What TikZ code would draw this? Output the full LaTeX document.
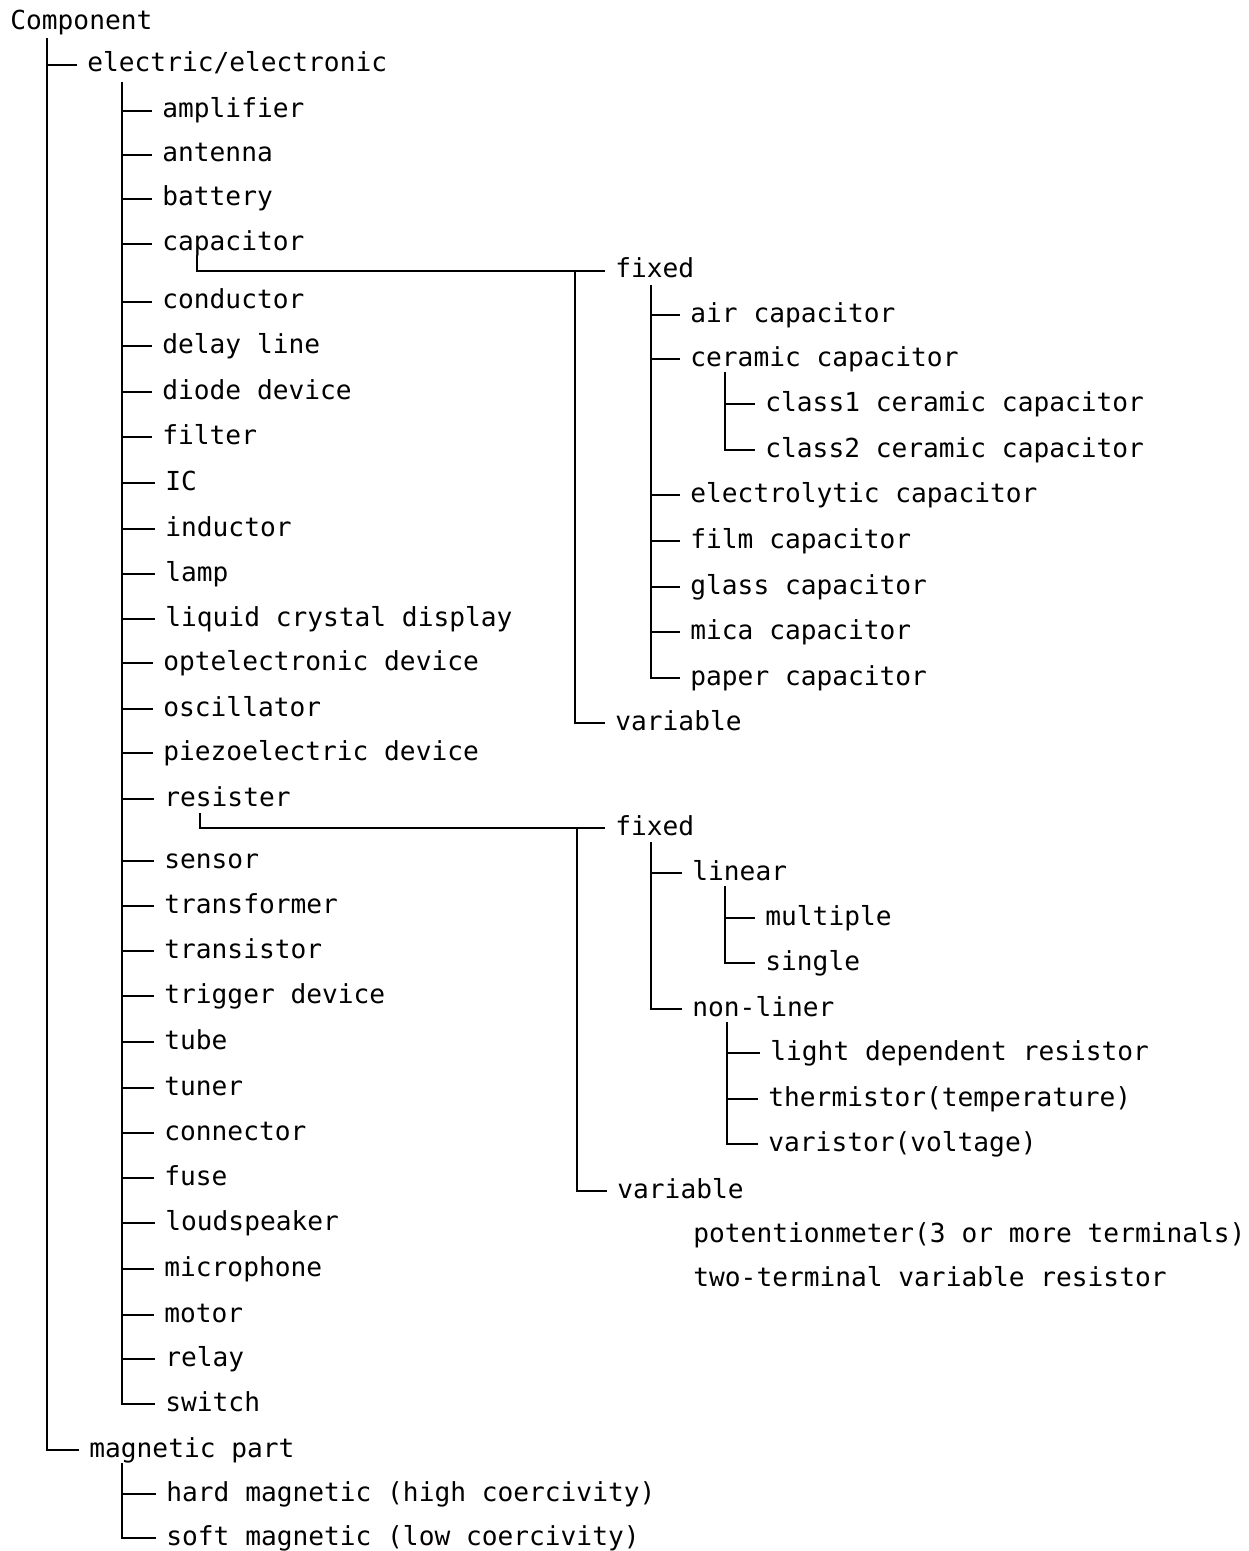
\documentclass[tikz,border=0pt]{standalone}
\usepackage{fontspec}
\setmonofont{DejaVu Sans Mono}
\begin{document}
\begin{tikzpicture}[x=0.5pt,y=-0.5pt,
  lbl/.style={anchor=west,inner sep=0pt,text height=7pt,text depth=0pt,
    font=\ttfamily\fontsize{13.1}{15}\selectfont},
  ln/.style={line width=1pt,black}]
\useasboundingbox (0,0) rectangle (1248,1551);

% root and first level
\node[lbl] (comp) at (10,23) {Component};
\node[lbl] (elec) at (87,65) {electric/electronic};
\node[lbl] (mag)  at (89,1450) {magnetic part};

% electric/electronic children
\node[lbl] (amp)   at (162,111) {amplifier};
\node[lbl] (ant)   at (162,155) {antenna};
\node[lbl] (bat)   at (162,199) {battery};
\node[lbl] (cap)   at (162,244) {capacitor};
\node[lbl] (cond)  at (162,302) {conductor};
\node[lbl] (delay) at (162,346) {delay line};
\node[lbl] (diode) at (162,392) {diode device};
\node[lbl] (filt)  at (162,437) {filter};
\node[lbl] (ic)    at (165,483) {IC};
\node[lbl] (ind)   at (165,529) {inductor};
\node[lbl] (lamp)  at (165,574) {lamp};
\node[lbl] (lcd)   at (165,619) {liquid crystal display};
\node[lbl] (opto)  at (163,663) {optelectronic device};
\node[lbl] (osc)   at (163,709) {oscillator};
\node[lbl] (piezo) at (163,753) {piezoelectric device};
\node[lbl] (res)   at (164,799) {resister};
\node[lbl] (sens)  at (164,861) {sensor};
\node[lbl] (trf)   at (164,906) {transformer};
\node[lbl] (trs)   at (164,951) {transistor};
\node[lbl] (trig)  at (164,996) {trigger device};
\node[lbl] (tube)  at (164,1042) {tube};
\node[lbl] (tuner) at (164,1088) {tuner};
\node[lbl] (conn)  at (164,1133) {connector};
\node[lbl] (fuse)  at (164,1178) {fuse};
\node[lbl] (spk)   at (165,1223) {loudspeaker};
\node[lbl] (mic)   at (164,1269) {microphone};
\node[lbl] (motor) at (164,1315) {motor};
\node[lbl] (relay) at (165,1359) {relay};
\node[lbl] (sw)    at (165,1404) {switch};

% magnetic part children
\node[lbl] (hard) at (166,1494) {hard magnetic (high coercivity)};
\node[lbl] (soft) at (166,1538) {soft magnetic (low coercivity)};

% capacitor subtree
\node[lbl] (cfix)   at (615,271) {fixed};
\node[lbl] (cair)   at (690,315) {air capacitor};
\node[lbl] (ccer)   at (690,359) {ceramic capacitor};
\node[lbl] (ccla)   at (765,404) {class1 ceramic capacitor};
\node[lbl] (cclb)   at (765,450) {class2 ceramic capacitor};
\node[lbl] (celec)  at (690,495) {electrolytic capacitor};
\node[lbl] (cfilm)  at (690,541) {film capacitor};
\node[lbl] (cglass) at (690,587) {glass capacitor};
\node[lbl] (cmica)  at (690,632) {mica capacitor};
\node[lbl] (cpaper) at (690,678) {paper capacitor};
\node[lbl] (cvar)   at (615,723) {variable};

% resister subtree
\node[lbl] (rfix)   at (615,828) {fixed};
\node[lbl] (rlin)   at (692,873) {linear};
\node[lbl] (rmult)  at (765,918) {multiple};
\node[lbl] (rsing)  at (765,963) {single};
\node[lbl] (rnon)   at (692,1009) {non-liner};
\node[lbl] (rldr)   at (770,1053) {light dependent resistor};
\node[lbl] (rtherm) at (768,1099) {thermistor(temperature)};
\node[lbl] (rvari)  at (768,1144) {varistor(voltage)};
\node[lbl] (rvar)   at (617,1191) {variable};
\node[lbl] (rpot)   at (693,1235) {potentionmeter(3 or more terminals)};
\node[lbl] (rtwo)   at (693,1279) {two-terminal variable resistor};

% trunk tops
\coordinate (tc) at (47,38);
\coordinate (te) at (122,82);
\coordinate (tm) at (122,1463);
\coordinate (tcap) at (197,255);
\coordinate (tcv) at (575,271);
\coordinate (tcf) at (651,285);
\coordinate (tcc) at (725,372);
\coordinate (tres) at (200,813);
\coordinate (trv) at (577,828);
\coordinate (trfx) at (651,842);
\coordinate (trl) at (725,886);
\coordinate (trn) at (727,1022);

% Component
\draw[ln] (tc) |- ([xshift=-5pt]mag.west);
\draw[ln] (tc |- elec.west) -- ([xshift=-5pt]elec.west);

% electric/electronic
\draw[ln] (te) |- ([xshift=-5pt]sw.west);
\foreach \n in {amp,ant,bat,cap,cond,delay,diode,filt,ic,ind,lamp,lcd,opto,osc,
  piezo,res,sens,trf,trs,trig,tube,tuner,conn,fuse,spk,mic,motor,relay}
  \draw[ln] (te |- \n.west) -- ([xshift=-5pt]\n.west);

% magnetic part
\draw[ln] (tm) |- ([xshift=-5pt]soft.west);
\draw[ln] (tm |- hard.west) -- ([xshift=-5pt]hard.west);

% capacitor
\draw[ln] (tcap) |- ([xshift=-5pt]cfix.west);
\draw[ln] (tcv) |- ([xshift=-5pt]cvar.west);
\draw[ln] (tcf) |- ([xshift=-5pt]cpaper.west);
\foreach \n in {cair,ccer,celec,cfilm,cglass,cmica}
  \draw[ln] (tcf |- \n.west) -- ([xshift=-5pt]\n.west);
\draw[ln] (tcc) |- ([xshift=-5pt]cclb.west);
\draw[ln] (tcc |- ccla.west) -- ([xshift=-5pt]ccla.west);

% resister
\draw[ln] (tres) |- ([xshift=-5pt]rfix.west);
\draw[ln] (trv) |- ([xshift=-5pt]rvar.west);
\draw[ln] (trfx) |- ([xshift=-5pt]rnon.west);
\draw[ln] (trfx |- rlin.west) -- ([xshift=-5pt]rlin.west);
\draw[ln] (trl) |- ([xshift=-5pt]rsing.west);
\draw[ln] (trl |- rmult.west) -- ([xshift=-5pt]rmult.west);
\draw[ln] (trn) |- ([xshift=-5pt]rvari.west);
\foreach \n in {rldr,rtherm}
  \draw[ln] (trn |- \n.west) -- ([xshift=-5pt]\n.west);
\end{tikzpicture}
\end{document}
